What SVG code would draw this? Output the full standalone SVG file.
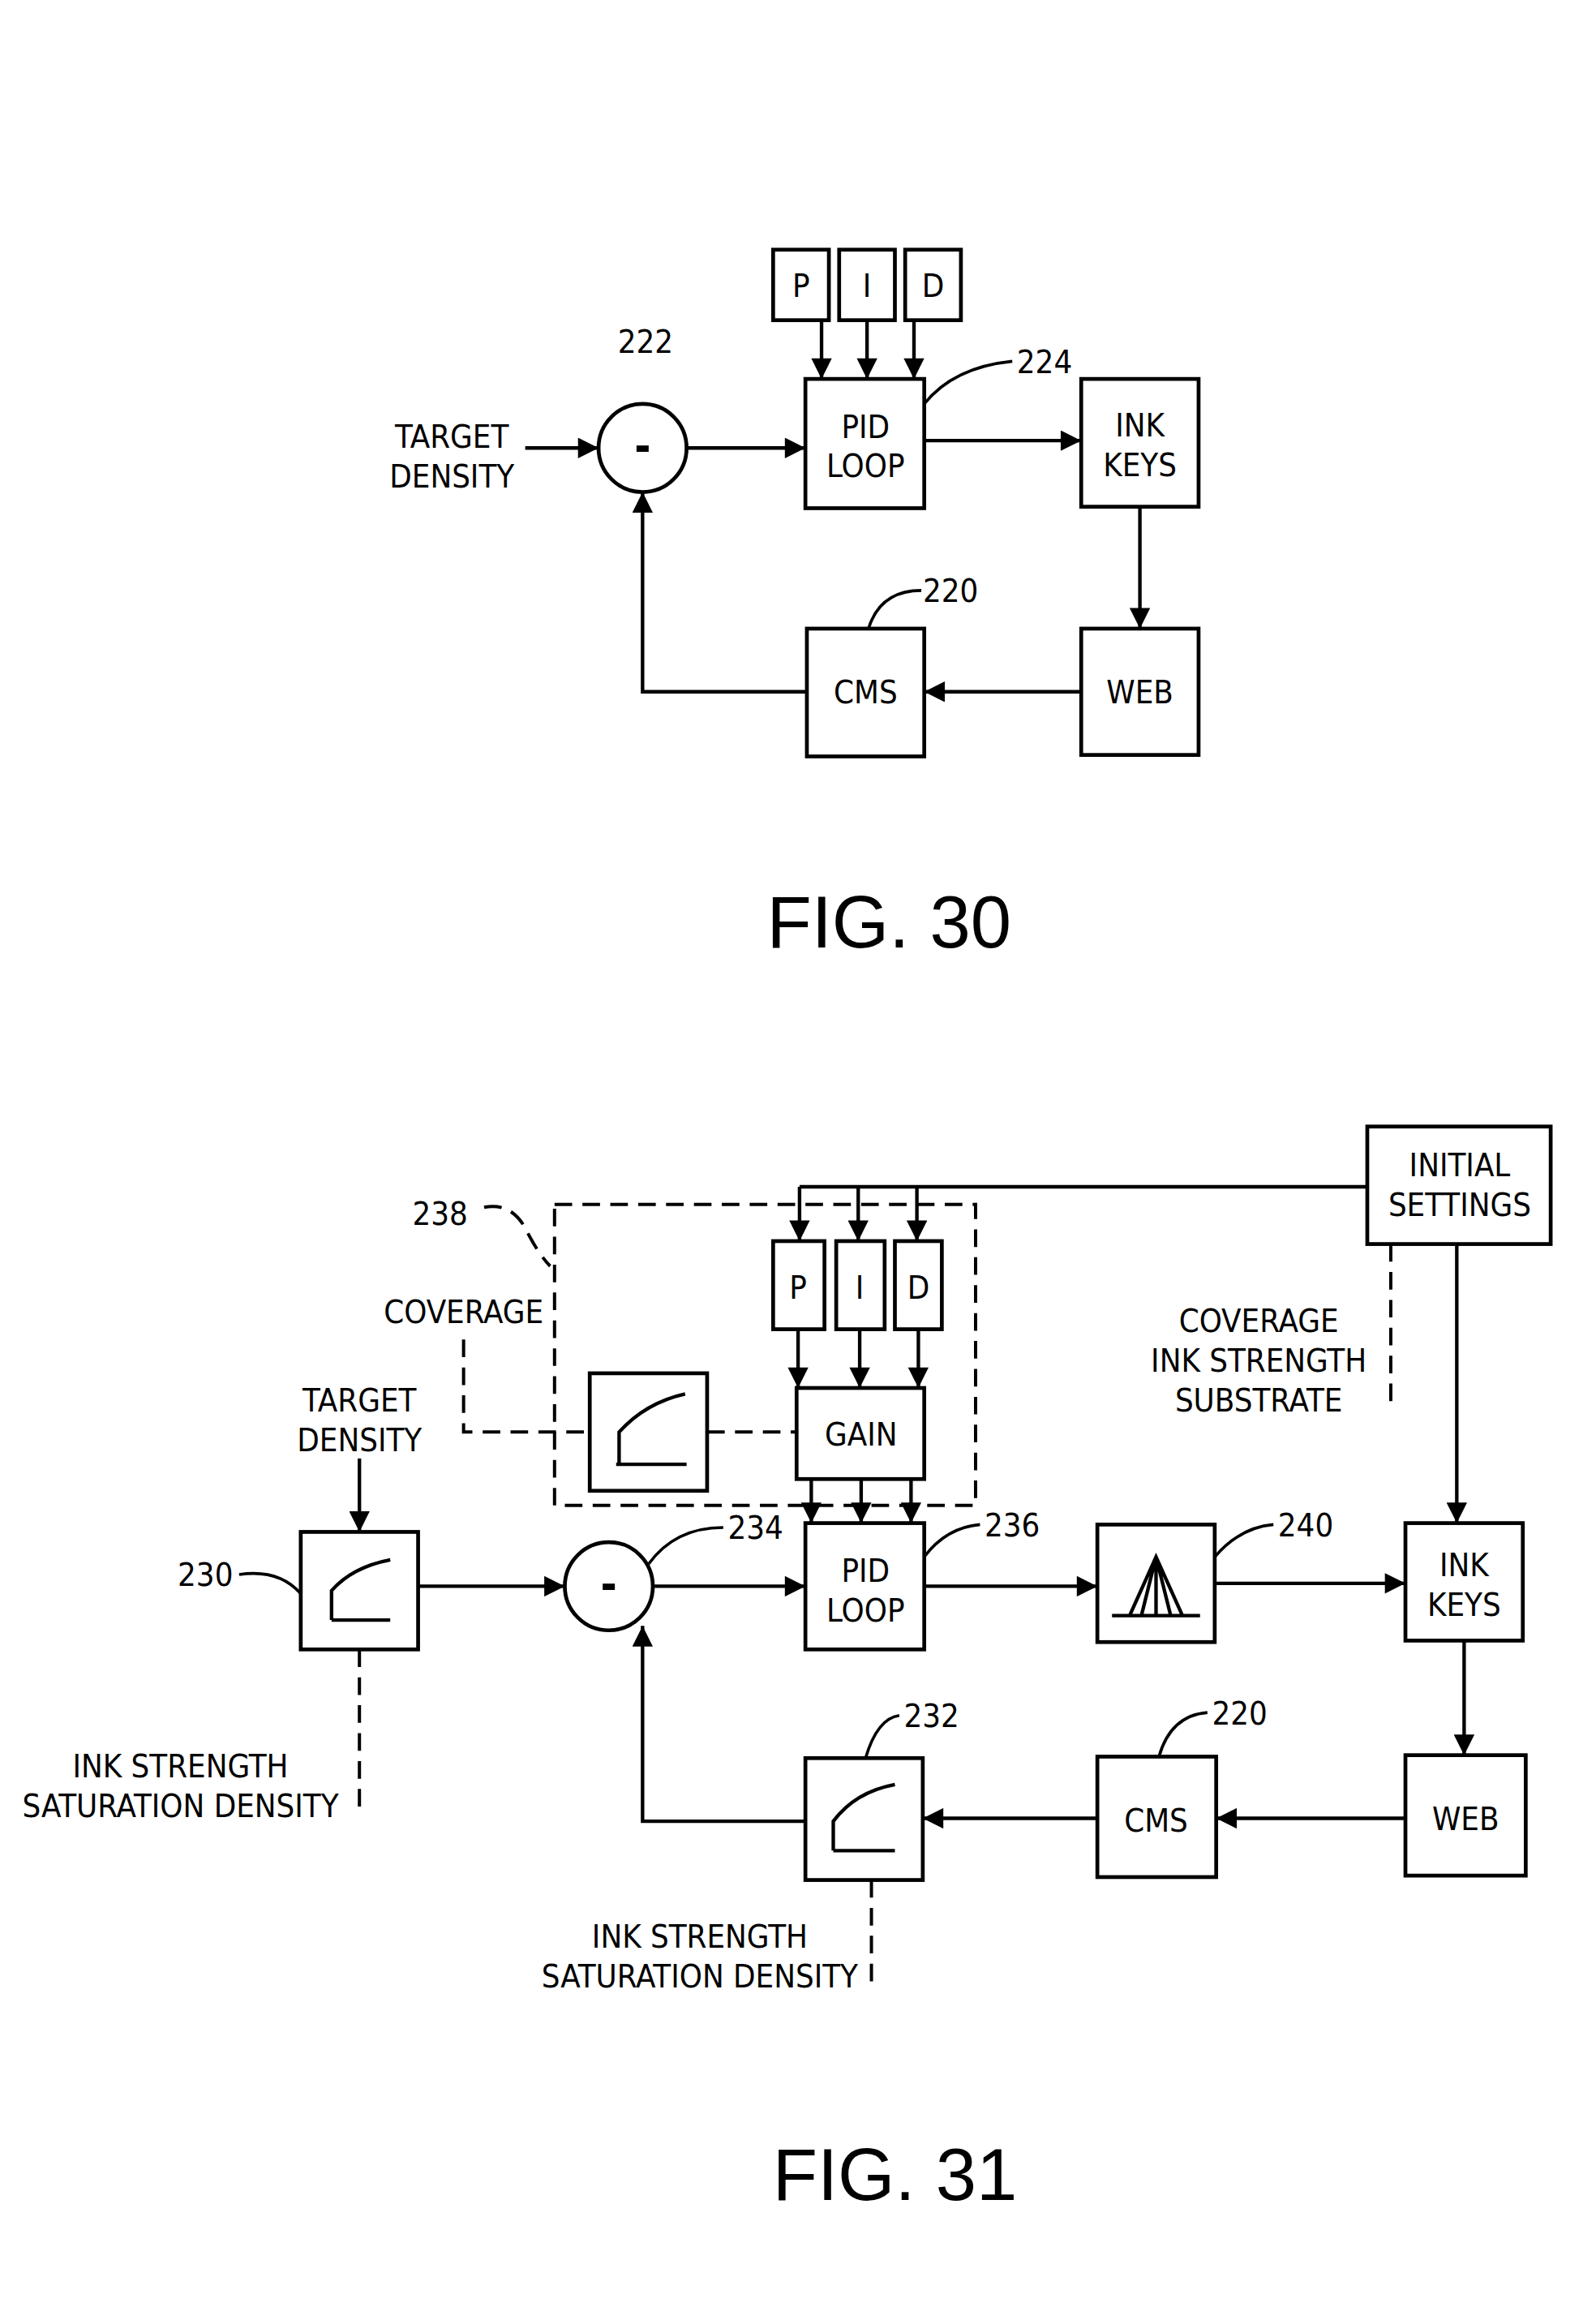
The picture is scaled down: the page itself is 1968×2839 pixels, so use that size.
<svg xmlns="http://www.w3.org/2000/svg" width="1968" height="2839" viewBox="0 0 1968 2839">
<defs>
<marker id="a" viewBox="0 0 10 10" refX="10" refY="5" markerWidth="20" markerHeight="14" markerUnits="userSpaceOnUse" orient="auto"><path d="M0,0L10,5L0,10z" fill="#000"/></marker>
<style>
.b{fill:none;stroke:#000;stroke-width:2.6}
.l{fill:none;stroke:#000;stroke-width:2.4}
.d{fill:none;stroke:#000;stroke-width:2.2;stroke-dasharray:12,7}
.c{fill:none;stroke:#000;stroke-width:2}
text{font-family:"DejaVu Sans Condensed","Liberation Sans",sans-serif;font-size:22px;text-anchor:middle;fill:#000}
.f{font-size:50px;font-family:"Liberation Sans",sans-serif}
.m{font-size:30px;font-weight:bold}
</style>
</defs>
<rect width="1968" height="2839" fill="#fff"/>
<g transform="scale(1.809,1.8106)">
<g id="P30"><rect class="b" x="527" y="170" width="38" height="48"/><text x="546" y="202">P</text></g>
<g id="I30"><rect class="b" x="572" y="170" width="38" height="48"/><text x="591" y="202">I</text></g>
<g id="D30"><rect class="b" x="617" y="170" width="38" height="48"/><text x="636" y="202">D</text></g>
<g id="PID30"><rect class="b" x="549" y="258" width="81" height="88"/><text x="590" y="298">PID</text><text x="590" y="325">LOOP</text><text x="712" y="254">224</text></g>
<g id="SUM222"><circle class="b" cx="438" cy="305" r="30"/><text class="m" x="438" y="314">-</text><text x="440" y="240">222</text></g>
<g id="TD30"><text x="308" y="305">TARGET</text><text x="308" y="332">DENSITY</text></g>
<g id="INK30"><rect class="b" x="737" y="258" width="80" height="87"/><text x="777" y="297">INK</text><text x="777" y="324">KEYS</text></g>
<g id="WEB30"><rect class="b" x="737" y="428" width="80" height="86"/><text x="777" y="479">WEB</text></g>
<g id="CMS30"><rect class="b" x="550" y="428" width="80" height="87"/><text x="590" y="479">CMS</text><text x="648" y="410">220</text></g>
<text class="f" x="606" y="645">FIG. 30</text>
<g id="INIT"><rect class="b" x="932" y="767" width="125" height="80"/><text x="995" y="801">INITIAL</text><text x="995" y="828">SETTINGS</text></g>
<g id="G238"><rect class="d" x="378" y="820" width="287" height="205"/><text x="300" y="834">238</text></g>
<g id="P31"><rect class="b" x="527" y="845" width="35" height="60"/><text x="544" y="884">P</text></g>
<g id="I31"><rect class="b" x="570" y="845" width="33" height="60"/><text x="586" y="884">I</text></g>
<g id="D31"><rect class="b" x="610" y="845" width="32" height="60"/><text x="626" y="884">D</text></g>
<g id="GAIN"><rect class="b" x="543" y="945" width="87" height="62"/><text x="587" y="984">GAIN</text></g>
<g id="CURVEG"><rect class="b" x="402" y="935" width="80" height="80"/><path class="l" d="M422,997V975Q440,955 467,949"/><path class="l" d="M420,997H468"/></g>
<g id="COV"><text x="316" y="901">COVERAGE</text></g>
<g id="PID31"><rect class="b" x="549" y="1037" width="81" height="86"/><text x="590" y="1077">PID</text><text x="590" y="1104">LOOP</text><text x="690" y="1046">236</text></g>
<g id="SUM234"><circle class="b" cx="415" cy="1080" r="30"/><text class="m" x="415" y="1089">-</text><text x="515" y="1048">234</text></g>
<g id="TD31"><text x="245" y="961">TARGET</text><text x="245" y="988">DENSITY</text></g>
<g id="B230"><rect class="b" x="205" y="1043" width="80" height="80"/><path class="l" d="M226,1103V1083Q240,1067 266,1062"/><path class="l" d="M226,1103H266"/><text x="140" y="1080">230</text></g>
<g id="B240"><rect class="b" x="748" y="1038" width="80" height="80"/><path class="l" d="M758,1100H818M770,1100L788,1060L806,1100M788,1060V1100M788,1060L778,1100M788,1060L798,1100"/><text x="890" y="1046">240</text></g>
<g id="INK31"><rect class="b" x="958" y="1037" width="80" height="80"/><text x="998" y="1073">INK</text><text x="998" y="1100">KEYS</text></g>
<g id="CIS"><text x="858" y="907">COVERAGE</text><text x="858" y="934">INK STRENGTH</text><text x="858" y="961">SUBSTRATE</text></g>
<g id="WEB31"><rect class="b" x="958" y="1195" width="82" height="82"/><text x="999" y="1246">WEB</text></g>
<g id="CMS31"><rect class="b" x="748" y="1196" width="81" height="82"/><text x="788" y="1247">CMS</text><text x="845" y="1174">220</text></g>
<g id="B232"><rect class="b" x="549" y="1197" width="80" height="83"/><path class="l" d="M568,1260V1240Q583,1220 610,1215"/><path class="l" d="M568,1260H610"/><text x="635" y="1176">232</text></g>
<g id="ISS1"><text x="123" y="1210">INK STRENGTH</text><text x="123" y="1237">SATURATION DENSITY</text></g>
<g id="ISS2"><text x="477" y="1326">INK STRENGTH</text><text x="477" y="1353">SATURATION DENSITY</text></g>
<text class="f" x="610" y="1498">FIG. 31</text>
<g id="connectors">
<path class="l" marker-end="url(#a)" d="M560,218V258"/><path class="l" marker-end="url(#a)" d="M591,218V258"/><path class="l" marker-end="url(#a)" d="M623,218V258"/>
<path class="c" d="M630,275Q650,250 690,246"/>
<path class="l" marker-end="url(#a)" d="M358,305H408"/>
<path class="l" marker-end="url(#a)" d="M468,305H549"/>
<path class="l" marker-end="url(#a)" d="M630,300H737"/>
<path class="l" marker-end="url(#a)" d="M777,345V428"/>
<path class="l" marker-end="url(#a)" d="M737,471H630"/>
<path class="l" marker-end="url(#a)" d="M550,471H438V335"/>
<path class="c" d="M592,428Q600,402 628,402"/>
<path class="l" d="M932,808H545"/>
<path class="l" marker-end="url(#a)" d="M545,808V845"/><path class="l" marker-end="url(#a)" d="M585,808V845"/><path class="l" marker-end="url(#a)" d="M625,808V845"/>
<path class="l" marker-end="url(#a)" d="M544,905V945"/><path class="l" marker-end="url(#a)" d="M586,905V945"/><path class="l" marker-end="url(#a)" d="M626,905V945"/>
<path class="l" marker-end="url(#a)" d="M553,1007V1037"/><path class="l" marker-end="url(#a)" d="M587,1007V1037"/><path class="l" marker-end="url(#a)" d="M621,1007V1037"/>
<path class="d" d="M482,975H543"/>
<path class="d" d="M316,912V975H402"/>
<path class="d" d="M330,822Q350,818 360,840Q368,855 375,862"/>
<path class="l" marker-end="url(#a)" d="M245,993V1043"/>
<path class="c" d="M163,1072Q190,1068 205,1085"/>
<path class="l" marker-end="url(#a)" d="M285,1080H385"/>
<path class="l" marker-end="url(#a)" d="M445,1080H549"/>
<path class="c" d="M442,1065Q460,1040 493,1040"/>
<path class="c" d="M630,1060Q645,1040 668,1038"/>
<path class="l" marker-end="url(#a)" d="M630,1080H748"/>
<path class="c" d="M828,1060Q845,1040 868,1038"/>
<path class="l" marker-end="url(#a)" d="M828,1078H958"/>
<path class="l" marker-end="url(#a)" d="M993,847V1037"/>
<path class="d" d="M948,847V955"/>
<path class="l" marker-end="url(#a)" d="M998,1117V1195"/>
<path class="l" marker-end="url(#a)" d="M958,1238H829"/>
<path class="c" d="M790,1196Q798,1168 823,1166"/>
<path class="l" marker-end="url(#a)" d="M748,1238H629"/>
<path class="c" d="M590,1197Q598,1170 613,1168"/>
<path class="l" marker-end="url(#a)" d="M549,1240H438V1107"/>
<path class="d" d="M245,1123V1235"/>
<path class="d" d="M594,1280V1355"/>
</g>
</g>
</svg>
